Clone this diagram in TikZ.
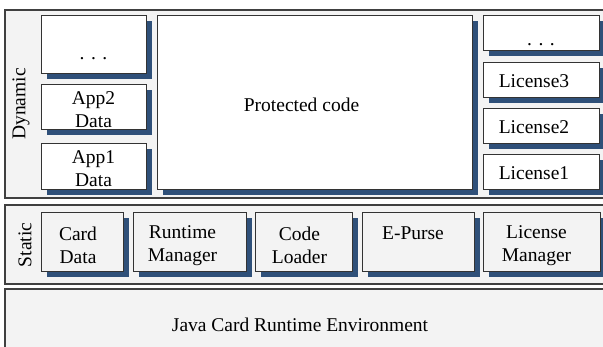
\documentclass[tikz,border=0pt]{standalone}
\usepackage{fontspec}
\setmainfont{Liberation Serif}
\usetikzlibrary{shadows}
\definecolor{shadowblue}{HTML}{2F5079}
\definecolor{panelgray}{HTML}{F3F3F3}
\definecolor{edgegray}{HTML}{404040}
\tikzset{
  panel/.style={draw=edgegray, line width=1.1pt, fill=panelgray},
  box/.style={draw=black!80, line width=0.8pt, fill=white, inner sep=0pt,
    drop shadow={shadow xshift=6pt, shadow yshift=-6pt, fill=shadowblue, opacity=1},
    font=\fontsize{19.5}{23}\selectfont, align=center},
  sbox/.style={box, fill=panelgray},
  lbl/.style={font=\fontsize{19.5}{23}\selectfont, align=center},
}
\begin{document}
\begin{tikzpicture}[x=1pt,y=-1pt]
\useasboundingbox (0,0) rectangle (603,347);
% panels
\path[panel] (5,10) rectangle (612,198);
\path[panel] (5,205) rectangle (612,284);
\path[panel] (5,289) rectangle (612,360);
\node[lbl, rotate=90] (dyn) at (21,104) {Dynamic};
\node[lbl, rotate=90] (sta) at (25,245) {Static};
\node[lbl] (jcre) at (300,325) {Java Card Runtime Environment};
% dynamic left column
\node[box, minimum width=105pt, minimum height=58pt,
  label={[lbl, yshift=-15pt]center:. . .}] (dotsL) at (93.5,44) {};
\node[box, minimum width=105pt, minimum height=45pt,
  label={[lbl, yshift=-3pt]center:App2\\Data}] (app2) at (93.5,106.5) {};
\node[box, minimum width=105pt, minimum height=46pt,
  label={[lbl, yshift=-3pt]center:App1\\Data}] (app1) at (93.5,166) {};
% protected code
\node[box, minimum width=315pt, minimum height=174pt,
  label={[lbl, xshift=-13pt, yshift=-3pt]center:Protected code}] (prot) at (314.5,102) {};
% right column
\node[box, minimum width=116pt, minimum height=35pt,
  label={[lbl, yshift=-12pt]center:. . .}] (dotsR) at (541,32.5) {};
\node[box, minimum width=116pt, minimum height=35pt,
  label={[lbl, xshift=-7pt, yshift=-2pt]center:License3}] (lic3) at (541,79.5) {};
\node[box, minimum width=116pt, minimum height=35pt,
  label={[lbl, xshift=-7pt, yshift=-2pt]center:License2}] (lic2) at (541,125.5) {};
\node[box, minimum width=116pt, minimum height=35pt,
  label={[lbl, xshift=-7pt, yshift=-2pt]center:License1}] (lic1) at (541,171.5) {};
% static boxes
\node[sbox, minimum width=82pt, minimum height=59pt,
  label={[lbl, xshift=-4pt, yshift=-4pt]center:Card\\Data}] (card) at (82,241.5) {};
\node[sbox, minimum width=113pt, minimum height=59pt,
  label={[lbl, xshift=-7pt, yshift=-4pt]center:Runtime\\Manager}] (rtm) at (189.5,241.5) {};
\node[sbox, minimum width=97pt, minimum height=59pt,
  label={[lbl, xshift=-4pt, yshift=-4pt]center:Code\\Loader}] (cl) at (303.5,241.5) {};
\node[sbox, minimum width=112pt, minimum height=59pt,
  label={[lbl, xshift=-5pt, yshift=8pt]center:E-Purse}] (ep) at (418,241.5) {};
\node[sbox, minimum width=117pt, minimum height=59pt,
  label={[lbl, xshift=-5pt, yshift=-4pt]center:License\\Manager}] (lm) at (541.5,241.5) {};
\end{tikzpicture}
\end{document}
